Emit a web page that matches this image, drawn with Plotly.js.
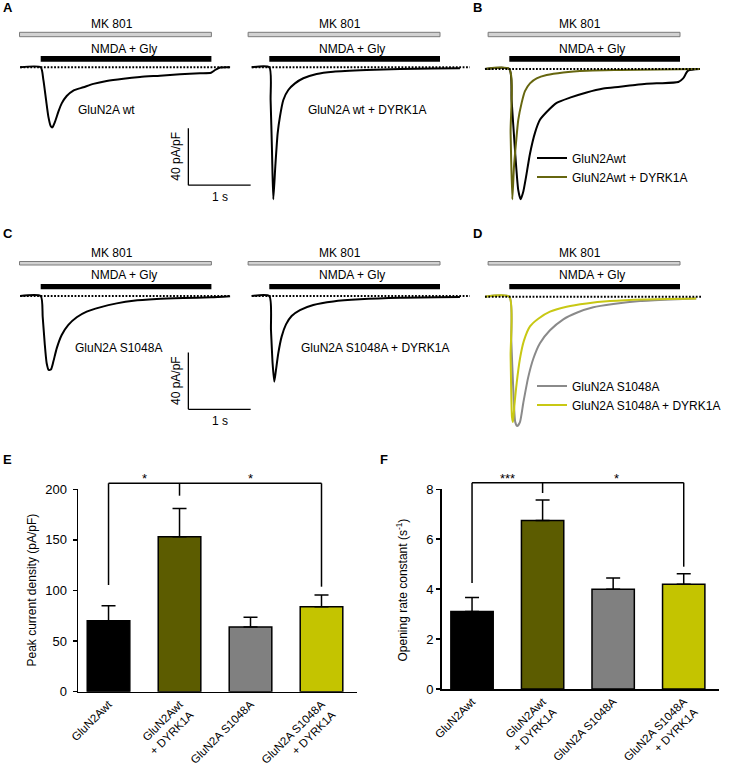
<!DOCTYPE html>
<html><head><meta charset="utf-8">
<script src="https://cdn.plot.ly/plotly-3.0.1.min.js"></script>
<style>html,body{margin:0;padding:0;background:#fff}#chart{width:732px;height:765px}</style>
</head><body><div id="chart"></div>
<script>
// ================= DATA =================
// Drug application windows (s, relative to NMDA + Gly onset)
const mk801Window = [-0.34, 2.74];
const nmdaGlyWindow = [0, 2.74];
const scaleBarTime = 1;      // s
const scaleBarAmp = 40;      // pA/pF

// Panel A: current density traces (pA/pF)
const aWtTime = [-0.33, 0, 0.043, 0.086, 0.123, 0.16, 0.187, 0.23, 0.284, 0.337, 0.417, 0.524, 0.685, 0.845, 1.059, 1.327, 1.594, 1.915, 2.236, 2.557, 2.734, 2.8, 2.88, 3.04];
const aWtCurrent = [0, 0, -8.9, -23, -34.7, -41.3, -42.3, -38.3, -31.2, -25.4, -20.2, -16.4, -14.1, -11.7, -9.6, -8.0, -6.8, -5.9, -4.9, -4.2, -3.8, -1.9, -0.2, 0];
const aDyrkTime = [-0.284, 0, 0.021, 0.043, 0.064, 0.096, 0.134, 0.171, 0.225, 0.305, 0.412, 0.546, 0.76, 1.027, 1.56, 2.097, 2.632, 3.06];
const aDyrkCurrent = [0, 0, -23, -58.2, -93, -70, -46.5, -34.7, -23, -16, -11.3, -7.7, -4.7, -3.1, -1.9, -1.2, -0.9, -0.7];
const aWtBaseline = [-0.33, 3.04];
const aDyrkBaseline = [-0.28, 3.22];

// Panel B: normalized traces
const bWtTime = [-0.39, 0, 0.037, 0.091, 0.144, 0.182, 0.225, 0.268, 0.332, 0.412, 0.492, 0.599, 0.76, 0.974, 1.241, 1.509, 1.776, 2.044, 2.365, 2.713, 2.79, 2.87, 3.06];
const bWtCurrent = [0, 0, -0.24, -0.62, -0.93, -1.0, -0.94, -0.83, -0.65, -0.49, -0.39, -0.33, -0.26, -0.22, -0.18, -0.15, -0.136, -0.12, -0.11, -0.10, -0.072, -0.013, 0];
const bDyrkTime = [-0.39, 0, 0.021, 0.048, 0.075, 0.107, 0.144, 0.198, 0.251, 0.332, 0.439, 0.6, 0.867, 1.241, 1.776, 3.06];
const bDyrkCurrent = [0, 0, -0.49, -1.0, -0.75, -0.57, -0.39, -0.26, -0.17, -0.11, -0.072, -0.046, -0.026, -0.013, -0.008, 0];
const bBaseline = [-0.39, 3.06];

// Panel C: current density traces (pA/pF)
const cWtTime = [-0.33, 0, 0.032, 0.064, 0.096, 0.128, 0.166, 0.203, 0.257, 0.337, 0.444, 0.578, 0.738, 0.952, 1.22, 1.487, 1.862, 2.29, 2.734, 3.04];
const cWtCurrent = [0, 0, -14.6, -33.3, -47.4, -52.1, -51.6, -46.2, -36.9, -27.5, -20.4, -15.0, -11.0, -8.0, -5.2, -3.3, -2.1, -1.4, -0.9, -0.2];
const cDyrkTime = [-0.284, 0, 0.027, 0.053, 0.08, 0.107, 0.144, 0.198, 0.268, 0.358, 0.492, 0.706, 1.027, 1.455, 2.097, 3.06];
const cDyrkCurrent = [0, 0, -23.9, -47.4, -60.3, -52.1, -40.4, -28.6, -20, -14.1, -9.9, -6.3, -3.8, -2.3, -1.2, -0.7];
const cWtBaseline = [-0.33, 3.04];
const cDyrkBaseline = [-0.28, 3.22];

// Panel D: normalized traces
const dS1048Time = [-0.39, 0, 0.032, 0.064, 0.096, 0.128, 0.171, 0.225, 0.305, 0.385, 0.492, 0.653, 0.867, 1.081, 1.348, 1.669, 2.097, 2.579, 3.0];
const dS1048Current = [0, 0, -0.34, -0.72, -0.97, -1.0, -0.97, -0.82, -0.62, -0.48, -0.36, -0.26, -0.175, -0.124, -0.082, -0.057, -0.034, -0.021, -0.013];
const dDyrkTime = [-0.39, 0, 0.021, 0.043, 0.059, 0.08, 0.118, 0.171, 0.235, 0.332, 0.465, 0.653, 0.92, 1.241, 1.616, 2.15, 3.0];
const dDyrkCurrent = [0, 0, -0.46, -0.93, -0.97, -0.85, -0.67, -0.48, -0.34, -0.23, -0.17, -0.116, -0.077, -0.052, -0.034, -0.021, -0.013];
const dBaseline = [-0.39, 3.1];

// Panels E & F: bar charts
const categories = ['GluN2Awt', 'GluN2Awt<br>+ DYRK1A', 'GluN2A S1048A', 'GluN2A S1048A<br>+ DYRK1A'];
const peakDensity = [70, 153, 64, 84];
const peakDensityErr = [15, 28, 9.5, 11.5];
const openingRate = [3.1, 6.75, 4.0, 4.2];
const openingRateErr = [0.57, 0.82, 0.45, 0.42];
const zeroErr = [0, 0, 0, 0];
const peakTicks = [0, 50, 100, 150, 200];
const rateTicks = [0, 2, 4, 6, 8];
const barColors = ['#000000', '#5c5c00', '#808080', '#c4c400'];

const seriesNames = {
  aWt: 'GluN2A wt', aDyrk: 'GluN2A wt + DYRK1A',
  bWt: 'GluN2Awt', bDyrk: 'GluN2Awt + DYRK1A',
  cWt: 'GluN2A S1048A', cDyrk: 'GluN2A S1048A + DYRK1A',
  dS: 'GluN2A S1048A', dDyrk: 'GluN2A S1048A + DYRK1A'
};

// ================= LAYOUT HELPERS =================
const W = 732, H = 765, PXS = 62.3;
const FONT = 'Liberation Sans, Arial, Helvetica, sans-serif';
const X = p => p / W;
const Y = p => 1 - p / H;

const panels = [
  {px: [10, 260], onset: 40.7, py: [15, 212], base: 67.3, k: 1.42},   // 1 A left
  {px: [245, 478], onset: 269.3, py: [15, 212], base: 67.3, k: 1.42}, // 2 A right
  {px: [480, 728], onset: 509.3, py: [15, 212], base: 69, k: 130.3},  // 3 B
  {px: [10, 260], onset: 40.7, py: [240, 432], base: 296, k: 1.42},   // 4 C left
  {px: [245, 478], onset: 269.3, py: [240, 432], base: 296, k: 1.42}, // 5 C right
  {px: [480, 728], onset: 509.3, py: [240, 432], base: 296.7, k: 129.3} // 6 D
];

const layout = {
  width: W, height: H, autosize: false,
  margin: {l: 0, r: 0, t: 0, b: 0},
  paper_bgcolor: '#fff', plot_bgcolor: 'rgba(0,0,0,0)',
  font: {family: FONT, size: 12, color: '#000'},
  showlegend: true,
  shapes: [], annotations: []
};

panels.forEach((p, i) => {
  const n = i + 1;
  layout['xaxis' + n] = {domain: [X(p.px[0]), X(p.px[1])], range: [(p.px[0] - p.onset) / PXS, (p.px[1] - p.onset) / PXS],
    visible: false, anchor: 'y' + n, fixedrange: true};
  layout['yaxis' + n] = {domain: [Y(p.py[1]), Y(p.py[0])], range: [-(p.py[1] - p.base) / p.k, (p.base - p.py[0]) / p.k],
    visible: false, anchor: 'x' + n, fixedrange: true};
});

const traces = [];
function addTrace(t, c, n, color, width, name, legend) {
  const tr = {type: 'scatter', mode: 'lines', x: t, y: c, xaxis: 'x' + n, yaxis: 'y' + n,
    line: {color: color, width: width, shape: 'spline', smoothing: 0.6}, name: name, hoverinfo: 'skip'};
  if (legend) { tr.legend = legend; tr.showlegend = true; } else tr.showlegend = false;
  traces.push(tr);
}
addTrace(aWtTime, aWtCurrent, 1, '#000', 2, seriesNames.aWt);
addTrace(aDyrkTime, aDyrkCurrent, 2, '#000', 2, seriesNames.aDyrk);
addTrace(bWtTime, bWtCurrent, 3, '#000', 2, seriesNames.bWt, 'legend');
addTrace(bDyrkTime, bDyrkCurrent, 3, '#66660f', 2, seriesNames.bDyrk, 'legend');
addTrace(cWtTime, cWtCurrent, 4, '#000', 2, seriesNames.cWt);
addTrace(cDyrkTime, cDyrkCurrent, 5, '#000', 2, seriesNames.cDyrk);
addTrace(dS1048Time, dS1048Current, 6, '#8a8a8a', 2, seriesNames.dS, 'legend2');
addTrace(dDyrkTime, dDyrkCurrent, 6, '#c8c814', 2, seriesNames.dDyrk, 'legend2');

// dotted baselines
[[aWtBaseline, 1], [aDyrkBaseline, 2], [bBaseline, 3], [cWtBaseline, 4], [cDyrkBaseline, 5], [dBaseline, 6]].forEach(([b, n]) => {
  traces.push({type: 'scatter', mode: 'lines', x: b, y: [0, 0], xaxis: 'x' + n, yaxis: 'y' + n,
    line: {color: '#000', width: 2, dash: '1.8px,1.6px'}, showlegend: false, hoverinfo: 'skip'});
});

// drug application bars and their labels
const rows = [
  {mk: [32.3, 36.7], nm: [56, 61.7], mkText: 24.5, nmText: 49},
  {mk: [261.5, 265], nm: [284, 289.3], mkText: 253.3, nmText: 275}
];
panels.forEach((p, i) => {
  const n = i + 1, r = rows[i < 3 ? 0 : 1];
  layout.shapes.push({type: 'rect', xref: 'x' + n, yref: 'paper', x0: mk801Window[0], x1: mk801Window[1],
    y0: Y(r.mk[1]), y1: Y(r.mk[0]), fillcolor: '#d2d2d2', line: {color: '#7a7a7a', width: 1}});
  layout.shapes.push({type: 'rect', xref: 'x' + n, yref: 'paper', x0: nmdaGlyWindow[0], x1: nmdaGlyWindow[1],
    y0: Y(r.nm[1]), y1: Y(r.nm[0]), fillcolor: '#000', line: {width: 0}});
  layout.annotations.push({xref: 'x' + n, yref: 'paper', x: (mk801Window[0] + mk801Window[1]) / 2 - 0.06, y: Y(r.mkText),
    text: 'MK 801', showarrow: false, xanchor: 'center', yanchor: 'middle', font: {size: 12}});
  layout.annotations.push({xref: 'x' + n, yref: 'paper', x: (nmdaGlyWindow[0] + nmdaGlyWindow[1]) / 2 - 0.04, y: Y(r.nmText),
    text: 'NMDA + Gly', showarrow: false, xanchor: 'center', yanchor: 'middle', font: {size: 12}});
});

// trace labels
function pxText(txt, px, py, opts) {
  layout.annotations.push(Object.assign({xref: 'paper', yref: 'paper', x: X(px), y: Y(py), text: txt,
    showarrow: false, xanchor: 'center', yanchor: 'middle', font: {size: 12}}, opts || {}));
}
pxText(seriesNames.aWt, 106.7, 110);
pxText(seriesNames.aDyrk, 366.7, 110);
pxText(seriesNames.cWt, 118.3, 348.3);
pxText(seriesNames.cDyrk, 375, 348.3);

// scale bars (on A-left and C-left axes)
[[1, 2.37, -83, 156.7, 197], [4, 2.37, -79.8, 381, 420.5]].forEach(([n, t0, a0, midY, sY]) => {
  layout.shapes.push({type: 'line', xref: 'x' + n, yref: 'y' + n, x0: t0, x1: t0, y0: a0, y1: a0 + scaleBarAmp, line: {color: '#000', width: 1.3}});
  layout.shapes.push({type: 'line', xref: 'x' + n, yref: 'y' + n, x0: t0, x1: t0 + scaleBarTime, y0: a0, y1: a0, line: {color: '#000', width: 1.3}});
  pxText(scaleBarAmp + ' pA/pF', 176, midY, {textangle: -90});
  pxText(scaleBarTime + ' s', 219.5, sY);
});

// panel letters
[['A', 8, 8], ['B', 477.5, 8], ['C', 8, 233], ['D', 478, 233], ['E', 7, 459], ['F', 384, 459]].forEach(([l, x, y]) =>
  pxText('<b>' + l + '</b>', x, y, {font: {size: 13}}));

// legends
layout.legend = {x: X(532), y: Y(143.5), xanchor: 'left', yanchor: 'top', bgcolor: 'rgba(0,0,0,0)',
  font: {family: FONT, size: 12, color: '#000'}, tracegroupgap: 0, itemwidth: 30};
layout.legend2 = {x: X(532), y: Y(371.5), xanchor: 'left', yanchor: 'top', bgcolor: 'rgba(0,0,0,0)',
  font: {family: FONT, size: 12, color: '#000'}, tracegroupgap: 0, itemwidth: 30};

// bar charts
function barAxes(n, pxL, pxR, pyTop, pyBot, range, ticks, standoff) {
  layout['xaxis' + n] = {domain: [X(pxL), X(pxR)], anchor: 'y' + n, type: 'category', range: [-0.43, 3.5],
    showline: true, linecolor: '#000', linewidth: 1.5, ticks: '', tickangle: -45, showgrid: false, zeroline: false,
    tickfont: {family: FONT, size: 11.5, color: '#000'}, fixedrange: true};
  layout['yaxis' + n] = {domain: [Y(pyBot), Y(pyTop)], anchor: 'x' + n, range: range, tickvals: ticks,
    showline: true, linecolor: '#000', linewidth: 1.5, ticks: 'outside', ticklen: 4, tickwidth: 1.5, tickcolor: '#000',
    ticklabelstandoff: standoff,
    showgrid: false, zeroline: false, tickfont: {family: FONT, size: 13, color: '#000'}, fixedrange: true};
}
barAxes(7, 78, 357, 489.3, 691.7, [0, 200], peakTicks, 3);
barAxes(8, 441.7, 719, 489.3, 689, [0, 8], rateTicks, 0);

traces.push({type: 'bar', x: categories, y: peakDensity, xaxis: 'x7', yaxis: 'y7', width: 0.6, showlegend: false,
  marker: {color: barColors, line: {color: '#000', width: 1.5}},
  error_y: {type: 'data', symmetric: false, array: peakDensityErr, arrayminus: zeroErr, color: '#000', thickness: 1.5, width: 7}});
traces.push({type: 'bar', x: categories, y: openingRate, xaxis: 'x8', yaxis: 'y8', width: 0.6, showlegend: false,
  marker: {color: barColors, line: {color: '#000', width: 1.5}},
  error_y: {type: 'data', symmetric: false, array: openingRateErr, arrayminus: zeroErr, color: '#000', thickness: 1.5, width: 7}});

// y titles
pxText('Peak current density (pA/pF)', 31.5, 590, {textangle: -90});
pxText('Opening rate constant (s<sup>-1</sup>)', 401.5, 590, {textangle: -90});

// significance brackets
function bracket(n, top, leftBot, rightBot, midBot, stars) {
  const ln = {color: '#000', width: 1.5};
  layout.shapes.push({type: 'line', xref: 'x' + n, yref: 'paper', x0: 0, x1: 3, y0: Y(top), y1: Y(top), line: ln});
  layout.shapes.push({type: 'line', xref: 'x' + n, yref: 'paper', x0: 0, x1: 0, y0: Y(top), y1: Y(leftBot), line: ln});
  layout.shapes.push({type: 'line', xref: 'x' + n, yref: 'paper', x0: 3, x1: 3, y0: Y(top), y1: Y(rightBot), line: ln});
  layout.shapes.push({type: 'line', xref: 'x' + n, yref: 'paper', x0: 1, x1: 1, y0: Y(top), y1: Y(midBot), line: ln});
  stars.forEach(([pos, s]) => layout.annotations.push({xref: 'x' + n, yref: 'paper', x: pos, y: Y(top + 5), text: s,
    showarrow: false, xanchor: 'center', yanchor: 'bottom', font: {size: 13}}));
}
bracket(7, 483.3, 585, 586.7, 495.7, [[0.5, '*'], [2, '*']]);
bracket(8, 482.7, 583, 566.7, 493, [[0.5, '***'], [2.05, '*']]);

Plotly.newPlot('chart', traces, layout, {staticPlot: true, displayModeBar: false});
</script></body></html>
